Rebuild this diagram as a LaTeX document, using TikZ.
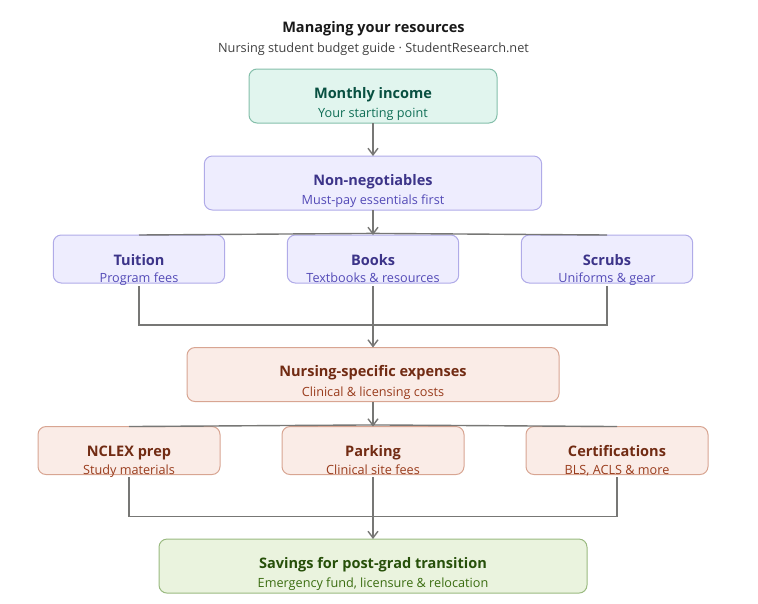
\documentclass[tikz,border=0pt]{standalone}
\usepackage{fontspec}
\setmainfont{Open Sans}
\usetikzlibrary{positioning,arrows.meta}
\definecolor{TealFill}{HTML}{E1F5EE}
\definecolor{TealLine}{HTML}{84BFAA}
\definecolor{TealHead}{HTML}{085041}
\definecolor{TealSub}{HTML}{0F6E56}
\definecolor{PurpleFill}{HTML}{EEEDFE}
\definecolor{PurpleLine}{HTML}{B0ABE8}
\definecolor{PurpleHead}{HTML}{3C3489}
\definecolor{PurpleSub}{HTML}{534AB7}
\definecolor{CoralFill}{HTML}{FAECE7}
\definecolor{CoralLine}{HTML}{D8A592}
\definecolor{CoralHead}{HTML}{712B13}
\definecolor{CoralSub}{HTML}{993C1D}
\definecolor{GreenFill}{HTML}{EAF3DE}
\definecolor{GreenLine}{HTML}{9ABA80}
\definecolor{GreenHead}{HTML}{27500A}
\definecolor{GreenSub}{HTML}{3B6D11}
\definecolor{FlowGray}{HTML}{777775}
% head and sub line of a box, dropped below the box centre by #1 and #2
\newcommand{\boxtext}[5]{\makebox[0pt]{\raisebox{-#1}[0pt][0pt]{\textcolor{#3Head}{\fontsize{10.9pt}{13pt}\selectfont\bfseries #4}}}\makebox[0pt]{\raisebox{-#2}[0pt][0pt]{\textcolor{#3Sub}{\fontsize{9.5pt}{11pt}\selectfont #5}}}}
\newcommand{\stagetext}{\boxtext{1.6pt}{16.3pt}}
\newcommand{\itemtext}{\boxtext{4.5pt}{17.8pt}}

\begin{document}
\begin{tikzpicture}[
      x=0.75pt, y=0.75pt,
      every node/.style={align=center},
      stage/.style={draw, rounded corners=6pt, minimum height=40.5pt, inner sep=0pt, outer sep=0pt, line width=0.75pt},
      item/.style={draw, rounded corners=6pt, minimum height=36pt, inner sep=0pt, outer sep=0pt, line width=0.75pt},
      teal/.style={fill=TealFill, draw=TealLine},
      purple/.style={fill=PurpleFill, draw=PurpleLine},
      coral/.style={fill=CoralFill, draw=CoralLine},
      leaf/.style={fill=GreenFill, draw=GreenLine},
      arrow/.style={line width=1.05pt, FlowGray, -{Straight Barb[length=5pt,width=7.5pt]}},
      link/.style={line width=1.05pt, FlowGray}
    ]
      \useasboundingbox (0,0) rectangle (758,-604);

      \node[font=\fontsize{10.9pt}{13pt}\selectfont\bfseries, text=black!90] (title) at (373.5,-28.5) {Managing your resources};
      \node[font=\fontsize{9.55pt}{11pt}\selectfont, text=black!75] (subtitle) at (373.5,-49) {Nursing student budget guide · StudentResearch.net};

      \node[stage, teal, minimum width=186pt] (income) at (373,-96) {\stagetext{Teal}{Monthly income}{Your starting point}};
      \node[stage, purple, minimum width=253pt, below=24.75pt of income] (essentials) {\stagetext{Purple}{Non-negotiables}{Must-pay essentials first}};
      \node[item, purple, minimum width=128.6pt, below=18.75pt of essentials] (books) {\itemtext{Purple}{Books}{Textbooks \& resources}};
      \node[item, purple, minimum width=128.6pt, left=46.9pt of books] (tuition) {\itemtext{Purple}{Tuition}{Program fees}};
      \node[item, purple, minimum width=128.6pt, right=46.9pt of books] (scrubs) {\itemtext{Purple}{Scrubs}{Uniforms \& gear}};
      \node[stage, coral, minimum width=279pt, below=48.4pt of books] (expenses) {\stagetext{Coral}{Nursing-specific expenses}{Clinical \& licensing costs}};
      \node[item, coral, minimum width=136.5pt, below=18.75pt of expenses] (parking) {\itemtext{Coral}{Parking}{Clinical site fees}};
      \node[item, coral, minimum width=136.5pt, left=46.5pt of parking] (nclex) {\itemtext{Coral}{NCLEX prep}{Study materials}};
      \node[item, coral, minimum width=136.5pt, right=46.5pt of parking] (certs) {\itemtext{Coral}{Certifications}{BLS, ACLS \& more}};
      \node[stage, leaf, minimum width=321pt, below=48.4pt of parking] (savings) {\stagetext{Green}{Savings for post-grad transition}{Emergency fund, licensure \& relocation}};

      % split and merge points
      \coordinate[above=1.2pt of books.north] (splitA);
      \coordinate[above=1.2pt of parking.north] (splitB);
      \coordinate[below=31.5pt of books.south] (mergeA);
      \coordinate[below=31.5pt of parking.south] (mergeB);

      \draw[arrow] (income) -- (essentials);
      \draw[arrow] (essentials) -- (books);
      \draw[link] (splitA) -- (tuition.north);
      \draw[link] (splitA) -- (scrubs.north);

      \draw[arrow, shorten <=2.2pt] (books) -- (expenses);
      \draw[link, shorten <=2.2pt] (tuition.south) |- (mergeA);
      \draw[link, shorten <=2.2pt] (scrubs.south) |- (mergeA);

      \draw[arrow] (expenses) -- (parking);
      \draw[link] (splitB) -- (nclex.north);
      \draw[link] (splitB) -- (certs.north);

      \draw[arrow, shorten <=2.2pt] (parking) -- (savings);
      \draw[link, shorten <=2.2pt] (nclex.south) |- (mergeB);
      \draw[link, shorten <=2.2pt] (certs.south) |- (mergeB);

    \end{tikzpicture}
\end{document}
